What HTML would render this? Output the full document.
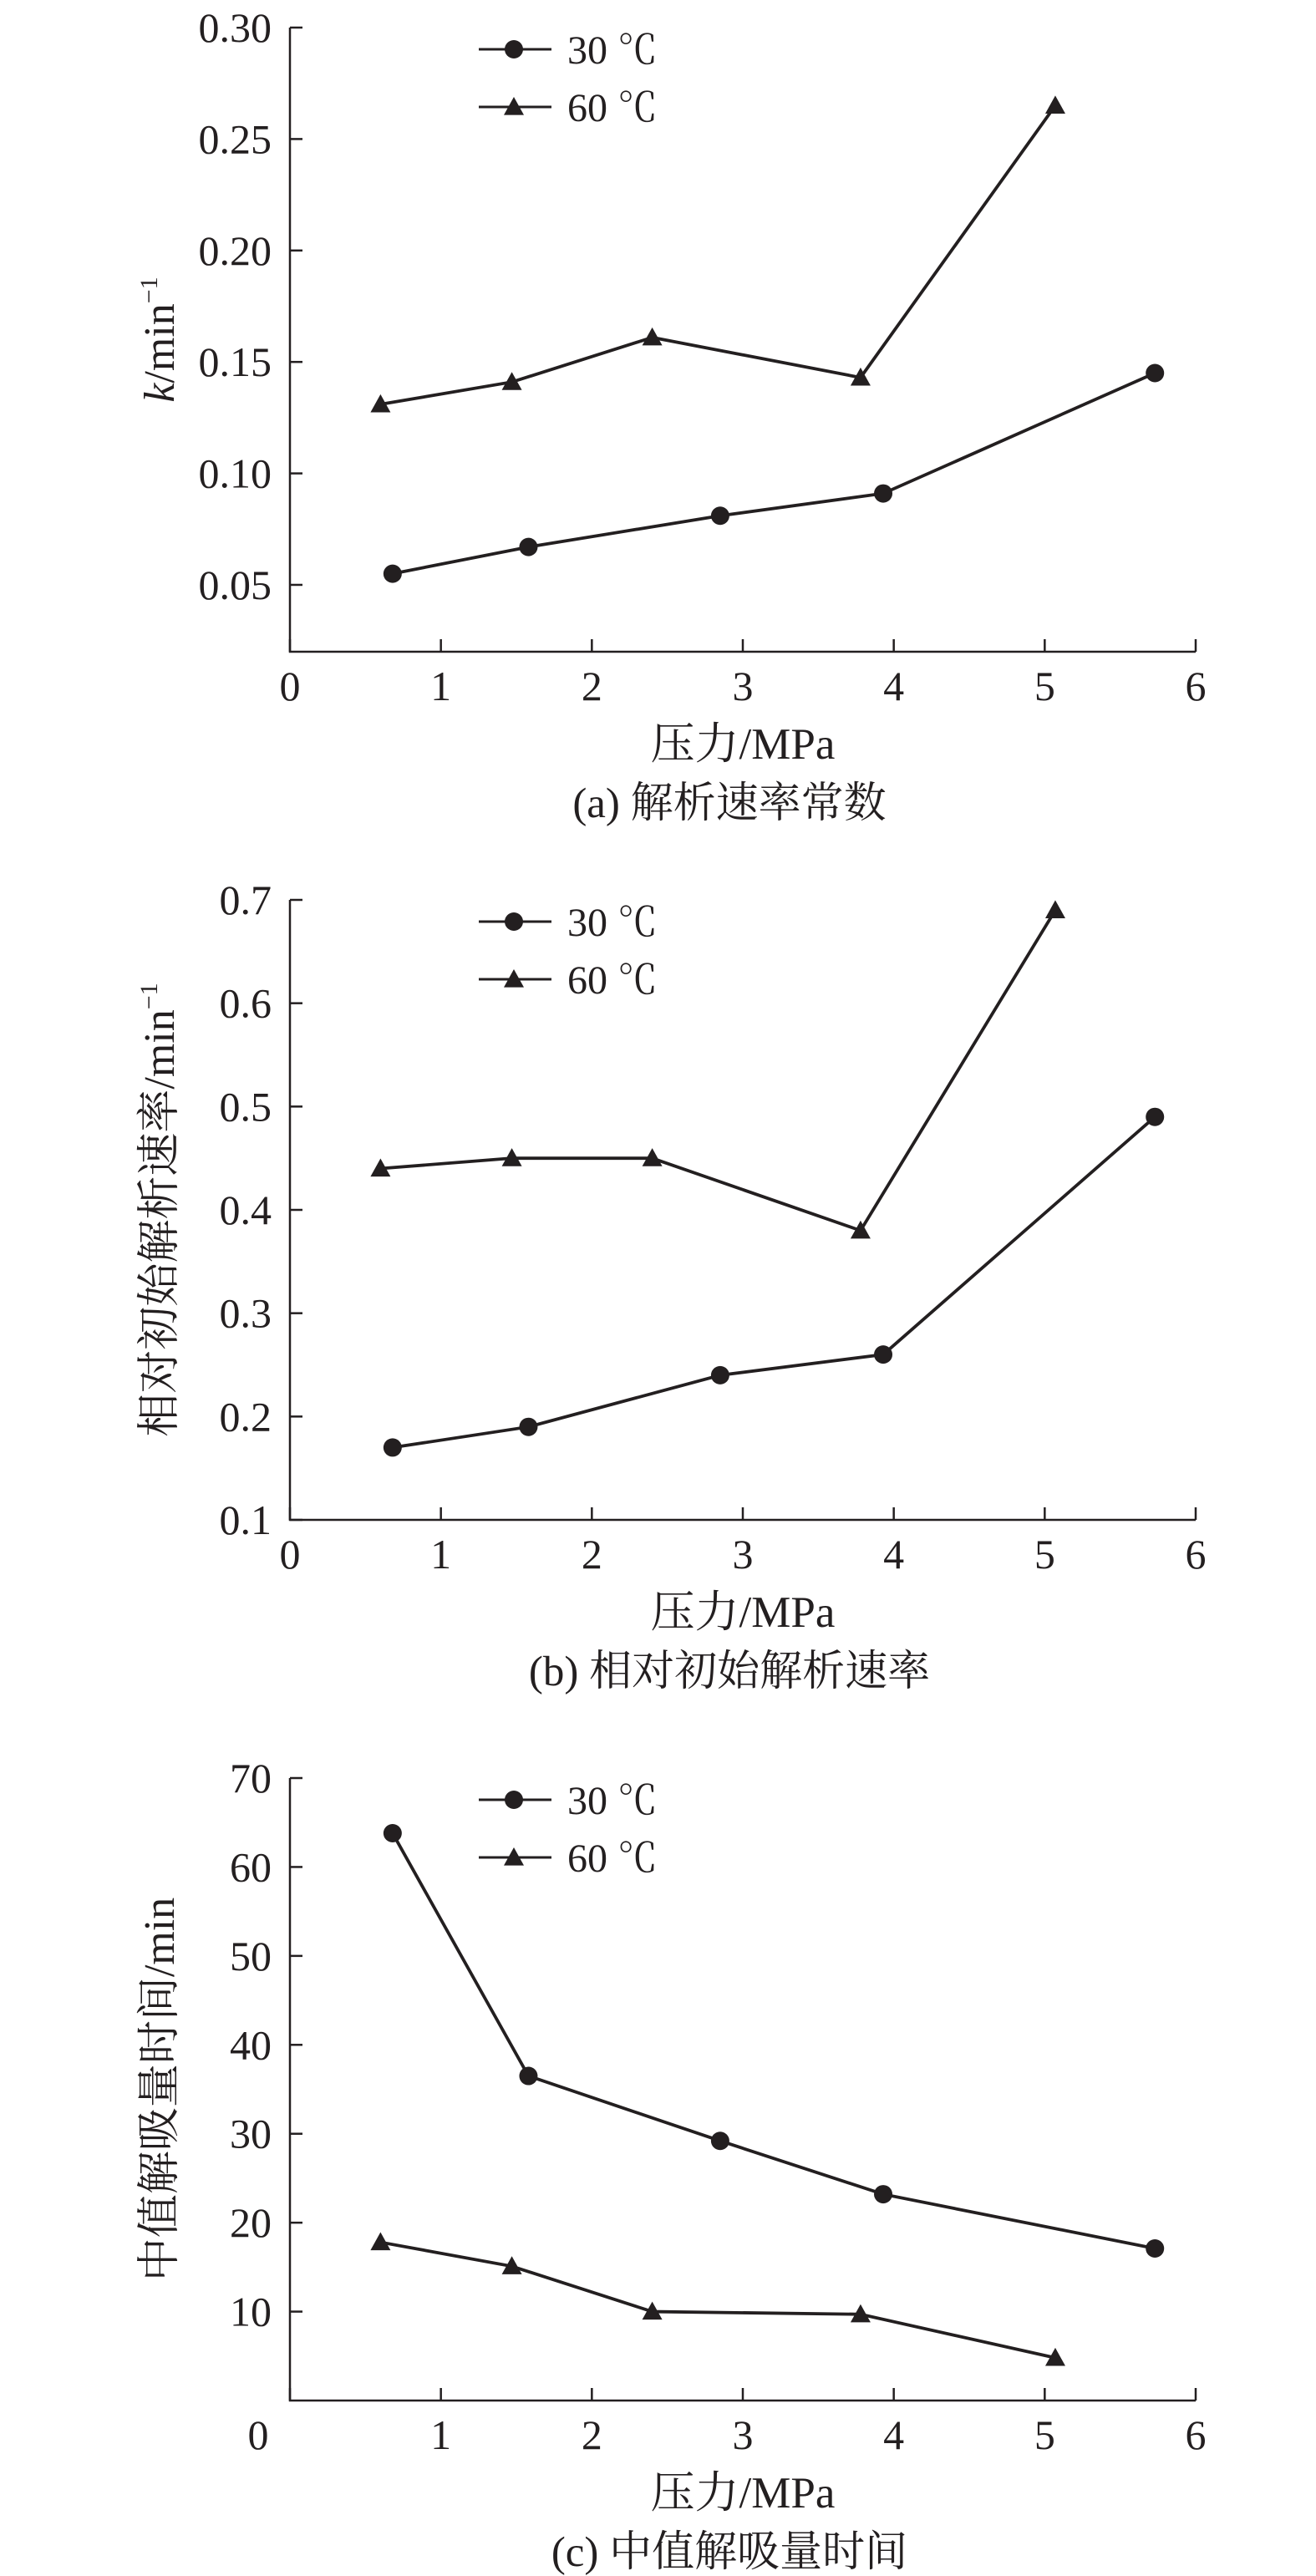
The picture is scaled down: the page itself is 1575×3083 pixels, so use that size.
<!DOCTYPE html>
<html><head><meta charset="utf-8">
<style>
html,body{margin:0;padding:0;background:#fff;}
svg{display:block;}
text{font-family:"Liberation Serif","Noto Serif CJK SC","Noto Sans CJK SC",serif;fill:#231f20;}
</style></head>
<body>
<svg id="fig" width="1575" height="3083" viewBox="0 0 1575 3083" xmlns="http://www.w3.org/2000/svg"></svg>
<script>
const xTicks = [0,1,2,3,4,5,6];
const seriesNames = ["30 ℃","60 ℃"];
const a30x = [0.68,1.58,2.85,3.93,5.73];
const a30y = [0.055,0.067,0.081,0.091,0.145];
const a60x = [0.6,1.47,2.4,3.78,5.07];
const a60y = [0.131,0.141,0.161,0.143,0.265];
const aTicks = [0.05,0.10,0.15,0.20,0.25,0.30];
const aTickLabels = ["0.05","0.10","0.15","0.20","0.25","0.30"];
const b30x = [0.68,1.58,2.85,3.93,5.73];
const b30y = [0.17,0.19,0.24,0.26,0.49];
const b60x = [0.6,1.47,2.4,3.78,5.07];
const b60y = [0.44,0.45,0.45,0.38,0.69];
const bTicks = [0.1,0.2,0.3,0.4,0.5,0.6,0.7];
const bTickLabels = ["0.1","0.2","0.3","0.4","0.5","0.6","0.7"];
const c30x = [0.68,1.58,2.85,3.93,5.73];
const c30y = [63.8,36.5,29.2,23.2,17.1];
const c60x = [0.6,1.47,2.4,3.78,5.07];
const c60y = [17.8,15.1,10.0,9.7,4.8];
const cTicks = [10,20,30,40,50,60,70];
const cTickLabels = ["10","20","30","40","50","60","70"];

const NS="http://www.w3.org/2000/svg";
const svg=document.getElementById('fig');
function mk(tag,attrs,parent,txt){const e=document.createElementNS(NS,tag);for(const k in attrs)e.setAttribute(k,attrs[k]);if(txt!==undefined)e.textContent=txt;(parent||svg).appendChild(e);return e;}

function chart(opt){
  const g=mk('g',{});
  
  
  const L=347,R=1431,T=opt.top,B=opt.bottom;
  const X=v=>L+(v-0)/6*(R-L);
  const Y=v=>B-(v-opt.ymin)/(opt.ymax-opt.ymin)*(B-T);
  const ax=mk('path',{d:`M${L},${T} L${L},${B} L${R},${B}`,fill:'none',stroke:'#231f20','stroke-width':2.5},g);
  
  
  xTicks.forEach(t=>{
    mk('line',{x1:X(t),x2:X(t),y1:B,y2:B-15,stroke:'#231f20','stroke-width':2.5},g);
    const lx = (t===0 && opt.zeroLeft)? X(t)-38 : X(t);
    const tx=mk('text',{x:lx,y:B+58,'font-size':50,'text-anchor':'middle'},g,String(t));
    
    
  });
  opt.yTicks.forEach((t,i)=>{
    mk('line',{x1:L,x2:L+15,y1:Y(t),y2:Y(t),stroke:'#231f20','stroke-width':2.5},g);
    const tx=mk('text',{x:L-22,y:Y(t)+17,'font-size':50,'text-anchor':'end'},g,opt.yLabels[i]);
    
    
  });
  const xt=mk('text',{x:889,y:B+128,'font-size':53,'text-anchor':'middle'},g,'压力/MPa');
  
  
  const cap=mk('text',{x:873,y:B+198,'font-size':51,'text-anchor':'middle'},g,opt.caption);
  
  
  const yt=mk('text',{x:0,y:0,'font-size':52,'text-anchor':'middle',transform:`translate(208,${(T+B)/2}) rotate(-90)`},g);
  
  
  if(opt.italicK){
    mk('tspan',{'font-style':'italic'},yt,'k');
    mk('tspan',{},yt,'/min');
    mk('tspan',{'font-size':30,dy:-20},yt,'−1');
  } else if(opt.sup){
    mk('tspan',{},yt,opt.ytitle);
    mk('tspan',{'font-size':30,dy:-20},yt,'−1');
  } else { mk('tspan',{},yt,opt.ytitle); }

  function circle(cx,cy,p){const c=mk('circle',{cx,cy,r:11,fill:'#231f20'},p);return c;}
  function tri(cx,cy,p){const s=12;return mk('path',{d:`M${cx},${cy-s} L${cx+s},${cy+s*0.8} L${cx-s},${cy+s*0.8} Z`,fill:'#231f20'},p);}
  [[opt.s30x,opt.s30y,circle,'series-30c'],[opt.s60x,opt.s60y,tri,'series-60c']].forEach(([xs,ys,mf,nm])=>{
    const sg=mk('g',{},g);
    
    
    const d=xs.map((x,i)=>(i?'L':'M')+X(x)+','+Y(ys[i])).join(' ');
    const ln=mk('path',{d,fill:'none',stroke:'#231f20','stroke-width':3.8},sg);
    
    
    xs.forEach((x,i)=>{const m=mf(X(x),Y(ys[i]),sg);
      
      });
  });
  const lg=mk('g',{},g);
  
  
  [[circle,0],[tri,1]].forEach(([mf,i])=>{
    const y=T+26+i*69;
    const e=mk('g',{},lg);
    
    
    mk('line',{x1:573,x2:660,y1:y,y2:y,stroke:'#231f20','stroke-width':3},e);
    mf(615,y,e);
    mk('text',{x:679,y:y+17,'font-size':48,'font-family':'Liberation Sans, sans-serif'},e,seriesNames[i]);
  });
}
chart({name:'chart-a-rate-constant',top:33,bottom:780,ymin:0.02,ymax:0.30,yTicks:aTicks,yLabels:aTickLabels,
  s30x:a30x,s30y:a30y,s60x:a60x,s60y:a60y,caption:'(a) 解析速率常数',italicK:true});
chart({name:'chart-b-relative-rate',top:1077,bottom:1819,ymin:0.1,ymax:0.7,yTicks:bTicks,yLabels:bTickLabels,
  s30x:b30x,s30y:b30y,s60x:b60x,s60y:b60y,caption:'(b) 相对初始解析速率',ytitle:'相对初始解析速率/min',sup:true});
chart({name:'chart-c-median-time',top:2128,bottom:2873,ymin:0,ymax:70,yTicks:cTicks,yLabels:cTickLabels,
  s30x:c30x,s30y:c30y,s60x:c60x,s60y:c60y,caption:'(c) 中值解吸量时间',ytitle:'中值解吸量时间/min',zeroLeft:true});
</script>
</body></html>
